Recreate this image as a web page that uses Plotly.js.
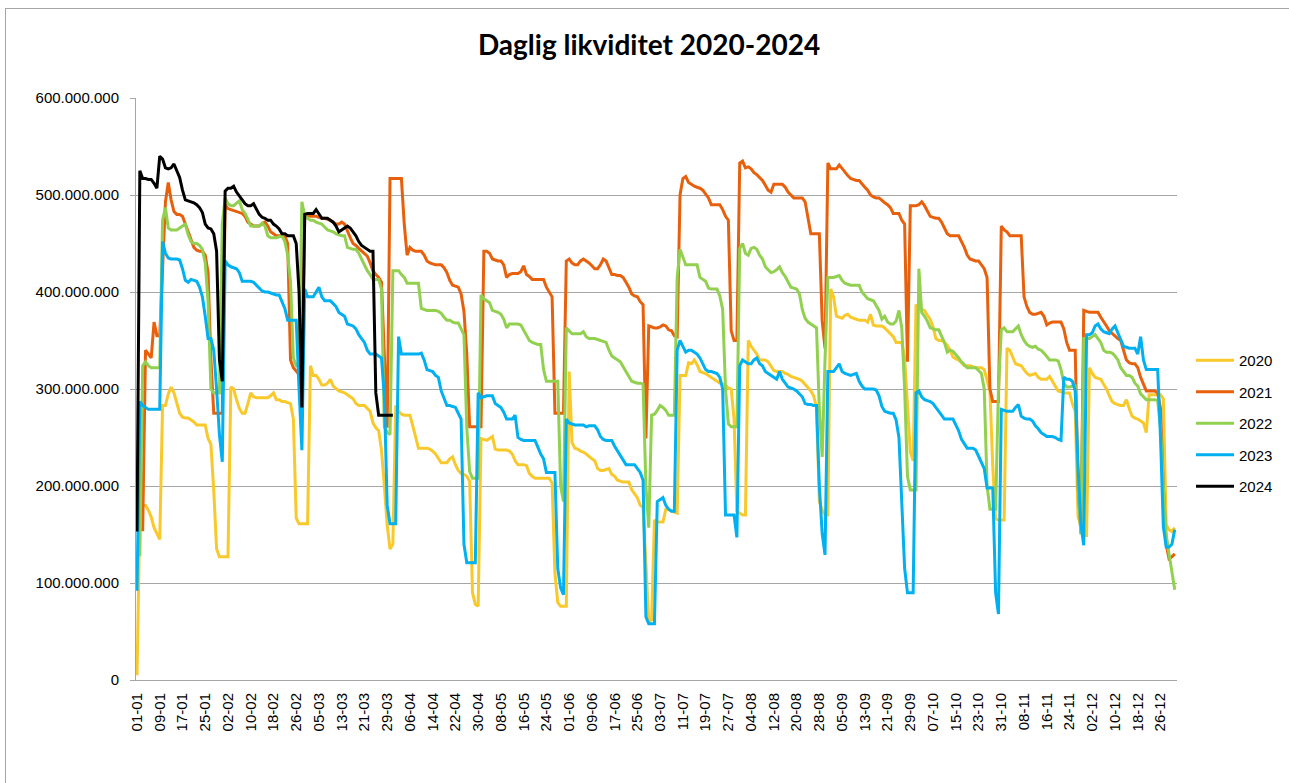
<!DOCTYPE html>
<html>
<head>
<meta charset="utf-8">
<script src="https://cdn.plot.ly/plotly-3.0.1.min.js"></script>
<style>
  html, body { margin: 0; padding: 0; background: #ffffff; overflow: hidden; }
  #chart { position: absolute; left: 0; top: 0; width: 1289px; height: 783px; }
  #frame { position: absolute; left: 5px; top: 8px; width: 2000px; height: 2000px;
           border-left: 1px solid #a6a6a6; border-top: 1px solid #a6a6a6; pointer-events: none; }
</style>
</head>
<body>
<div id="chart"></div>
<div id="frame"></div>
<script>
// Day labels (dd-mm) of a 366-day year
const monthLengths = [31,29,31,30,31,30,31,31,30,31,30,31];
const categories = [];
monthLengths.forEach((len, m) => {
  for (let d = 1; d <= len; d++) {
    categories.push(String(d).padStart(2,'0') + '-' + String(m + 1).padStart(2,'0'));
  }
});
const tickLabels = categories.filter((c, i) => i % 8 === 0);

const seriesNames = ['2020','2021','2022','2023','2024'];
const seriesColors = ['#F9C92C','#E8600C','#92D050','#00B0F0','#000000'];

// Daily values in millions
const v2020 = [
5,170,180,180,175,168,157,150,145,283, 283,295,302,296,285,275,271,270,270,268, 266,263,263,263,263,249,243,195,135,127, 127,
127,127,302,300,289,280,275,275,285,296, 292,291,291,291,291,291,293,296,289,289, 287,287,286,285,269,167,161,161,161,
161,324,314,314,310,304,304,306,310,303, 300,298,297,296,294,292,290,285,283,283, 283,280,277,265,260,257,237,200,160,135, 140,
283,277,274,273,273,273,262,250,239,239, 239,239,238,236,233,229,224,224,224,228, 230,222,216,213,212,210,205,90,78,76,
249,248,247,249,251,238,237,237,237,237, 236,233,226,222,222,222,221,213,210,208, 208,208,208,208,208,203,110,80,76,76, 76,
318,245,239,238,236,235,233,230,228,226, 218,216,216,217,218,212,210,206,205,204, 204,204,196,192,188,180,178,120,60,62,
165,163,163,163,176,176,174,173,172,314, 314,314,327,326,330,325,318,317,316,314, 312,310,308,306,305,304,301,300,269,174, 172,
170,170,350,344,340,336,330,330,330,328, 324,319,318,318,318,316,315,313,312,311, 310,308,305,302,298,293,281,184,175,170, 170,
403,395,375,374,373,376,377,374,373,372, 371,371,371,369,377,366,365,365,365,363, 360,357,354,348,348,348,332,280,235,226,
387,383,382,381,376,372,364,352,350,350, 348,345,340,333,331,330,327,324,324,324, 323,322,322,322,320,308,298,220,166,165, 165,
165,342,340,333,326,325,324,320,316,314, 315,316,312,310,310,310,313,308,304,298, 297,296,296,296,285,277,168,160,149,149,
322,316,312,311,310,305,300,293,287,285, 284,283,283,289,280,272,270,269,267,265, 255,294,294,294,294,294,290,160,155,153, 157
];

const v2021 = [
155,155,155,340,336,332,369,355,355,422, 493,513,495,483,480,480,478,470,462,454, 446,443,442,442,438,420,330,275,275,275, 275,
490,486,485,484,483,482,481,478,472,470, 468,468,468,470,472,468,462,460,458,458, 458,458,450,330,322,318,315,315,480,
479,478,478,478,477,476,476,475,474,472, 470,470,472,470,462,456,450,448,445,442, 440,437,430,422,418,415,410,330,260,517, 517,
517,517,517,470,438,446,443,442,442,442, 438,432,430,429,428,428,428,425,420,412, 407,406,405,398,380,336,261,261,261,261,
261,442,442,440,434,433,432,432,428,415, 418,419,419,419,421,427,418,416,413,413, 413,413,413,405,400,395,275,275,275,275, 432,
434,430,428,428,432,434,432,430,427,424, 424,428,434,432,425,418,418,417,417,415, 410,405,398,396,395,390,387,249,365,364,
363,363,364,366,365,361,360,355,354,500, 517,519,513,511,509,508,507,505,501,497, 490,490,490,490,485,478,474,360,350,350, 533,
535,528,529,527,523,521,518,515,510,505, 503,511,511,511,511,508,503,500,497,497, 497,497,493,474,460,460,460,460,370,342, 533,
527,527,527,531,527,523,520,517,516,515, 515,511,508,505,500,498,497,497,494,492, 490,487,481,481,481,474,470,328,489,489,
489,490,493,489,484,478,477,476,476,472, 466,460,458,458,458,458,452,446,438,434, 433,432,432,428,424,415,300,287,287,287, 468,
464,462,458,458,458,458,458,395,385,379, 377,377,378,379,375,366,368,369,369,369, 369,362,348,340,340,340,200,151,381,380,
379,379,379,379,374,370,365,360,357,355, 352,350,340,330,327,326,326,322,312,305, 298,298,298,298,296,280,200,140,125,127, 130
];

const v2022 = [
129,129,324,328,324,322,322,322,322,474, 487,466,464,464,464,466,468,470,459,452, 450,450,448,444,430,390,300,296,296,296, 470,
497,491,489,489,492,494,485,481,475,468, 468,468,468,471,468,458,456,456,456,457, 458,452,438,411,332,324,324,493,478,
476,474,474,472,471,470,467,464,463,462, 460,459,458,458,446,445,444,444,440,434, 428,422,418,413,413,413,403,261,255,253, 422,
422,422,418,415,409,409,409,409,409,383, 382,381,381,381,381,380,378,374,371,371, 369,368,368,362,356,260,215,208,208,208,
397,393,391,389,381,380,379,377,372,363, 367,367,367,367,366,361,355,350,348,347, 346,346,320,308,308,308,308,308,200,184, 363,
360,357,357,357,357,359,354,352,352,352, 351,350,349,348,340,334,332,330,328,323, 318,313,308,307,306,306,305,200,157,273,
274,278,283,281,278,273,273,273,415,444, 436,428,428,428,428,428,415,413,411,404, 403,403,403,396,382,300,264,261,261,261, 445,
450,440,438,445,446,444,438,434,426,423, 420,421,423,426,420,416,410,405,404,403, 398,382,373,369,367,365,363,280,230,330, 415,
415,415,416,417,412,409,408,407,407,407, 407,400,396,393,392,391,386,381,372,375, 369,367,367,370,381,363,300,210,196,196,
196,424,379,375,370,363,362,361,361,355, 348,338,340,339,336,332,328,325,322,322, 322,322,319,316,300,200,176,176,176,300, 361,
363,359,359,359,362,365,356,350,346,344, 343,344,341,340,337,334,330,330,330,329, 320,306,302,302,303,303,200,150,352,352,
352,354,356,352,348,340,338,338,337,334, 330,322,318,314,314,312,306,303,295,292, 289,289,289,289,288,260,200,150,130,110, 93
];

const v2023 = [
92,287,283,281,279,279,279,279,279,452, 440,435,434,434,434,433,424,412,410,413, 412,411,405,395,375,352,352,340,300,253, 225,
432,428,426,425,424,420,411,411,411,411, 410,407,404,401,400,400,399,398,397,397, 390,383,371,371,371,371,300,237,403,
395,395,395,400,405,395,391,391,391,388, 385,379,377,375,367,366,365,362,356,352, 348,340,336,336,336,334,332,293,180,161, 161,
161,354,336,336,336,336,336,336,336,337, 330,320,319,318,314,312,298,290,283,283, 282,281,275,269,140,121,121,121,121,296,
291,292,293,293,293,285,283,281,276,269, 269,269,273,250,248,247,247,247,247,247, 240,233,228,214,214,214,214,115,95,88, 269,
265,264,263,263,263,263,261,262,262,262, 258,251,248,247,247,247,241,236,231,226, 222,222,222,222,218,214,206,65,58,58,
58,184,186,188,180,176,174,174,340,350, 344,338,340,340,338,336,332,326,320,318, 318,317,316,312,300,170,170,170,170,147, 324,
330,328,326,326,330,332,326,324,318,316, 314,312,310,318,310,306,302,301,300,298, 295,292,285,284,284,283,283,200,151,129, 318,
318,318,322,326,318,316,315,314,315,316, 308,303,300,300,300,300,299,293,282,277, 276,275,275,268,250,180,115,90,90,90,
296,298,292,289,288,287,285,281,276,272, 269,269,269,269,263,257,248,243,239,239, 239,237,231,224,218,198,198,198,90,68, 279,
278,277,277,277,281,284,272,270,269,269, 267,262,259,255,253,251,251,251,250,248, 247,312,310,310,308,298,220,160,139,356,
356,358,365,367,362,359,358,357,362,365, 358,350,344,343,342,342,342,336,354,330, 320,320,320,320,320,250,158,137,137,140, 155
];

const v2024 = [
153,525,517,517,516,516,512,507,540,537, 528,527,528,532,525,518,505,495,494,493, 492,490,487,482,470,466,465,460,442,330, 308,
504,507,507,509,503,499,495,491,489,489, 491,485,480,477,476,474,474,470,468,465, 460,460,458,458,458,450,400,281,480,
481,481,481,485,480,476,476,476,474,472, 468,462,464,466,468,466,462,458,452,448, 446,444,442,442,296,273,273,273,273,273, 273
];

const allSeries = [v2020, v2021, v2022, v2023, v2024];

const traces = allSeries.map((vals, k) => ({
  type: 'scatter',
  mode: 'lines',
  name: seriesNames[k],
  legendgroup: seriesNames[k],
  x: categories.slice(0, vals.length),
  y: vals.map(v => v * 1e6),
  line: { color: seriesColors[k], width: 3 },
  hoverinfo: 'skip'
}));

const layout = {
  width: 1289,
  height: 783,
  margin: { l: 136, r: 112, t: 98, b: 103 },
  paper_bgcolor: 'rgba(0,0,0,0)',
  plot_bgcolor: '#ffffff',
  separators: ',.',
  font: { family: 'Liberation Sans, Arial, sans-serif', size: 15, color: '#000000' },
  title: {
    text: '<b>Daglig likviditet 2020-2024</b>',
    font: { family: 'Lato, Liberation Sans, sans-serif', size: 28, color: '#000000' },
    xref: 'container', x: 0.5035, xanchor: 'center',
    yref: 'container', y: 1 - 45 / 783, yanchor: 'middle'
  },
  showlegend: true,
  legend: {
    xref: 'container', x: 1191 / 1289, xanchor: 'left',
    yref: 'container', y: 1 - 344 / 783, yanchor: 'top',
    traceorder: 'grouped', tracegroupgap: 9,
    itemwidth: 38,
    font: { size: 15, color: '#000000' },
    bgcolor: 'rgba(0,0,0,0)'
  },
  xaxis: {
    type: 'category',
    categoryorder: 'array',
    categoryarray: categories,
    range: [-0.35, 365.8],
    tickmode: 'array',
    tickvals: tickLabels,
    ticktext: tickLabels,
    tickangle: -90,
    ticks: '',
    ticklabelstandoff: 6,
    showgrid: false,
    showline: true,
    linecolor: '#a6a6a6',
    linewidth: 1,
    zeroline: false,
    tickfont: { size: 15 }
  },
  yaxis: {
    range: [0, 600e6],
    dtick: 100e6,
    tick0: 0,
    tickformat: ',.0f',
    ticks: 'outside',
    ticklen: 5,
    tickcolor: '#a6a6a6',
    ticklabelstandoff: 8,
    showgrid: true,
    gridcolor: '#a6a6a6',
    gridwidth: 1,
    showline: true,
    linecolor: '#a6a6a6',
    linewidth: 1,
    zeroline: false,
    tickfont: { size: 15 }
  }
};

Plotly.newPlot('chart', traces, layout, { displayModeBar: false, staticPlot: true });
</script>
</body>
</html>
